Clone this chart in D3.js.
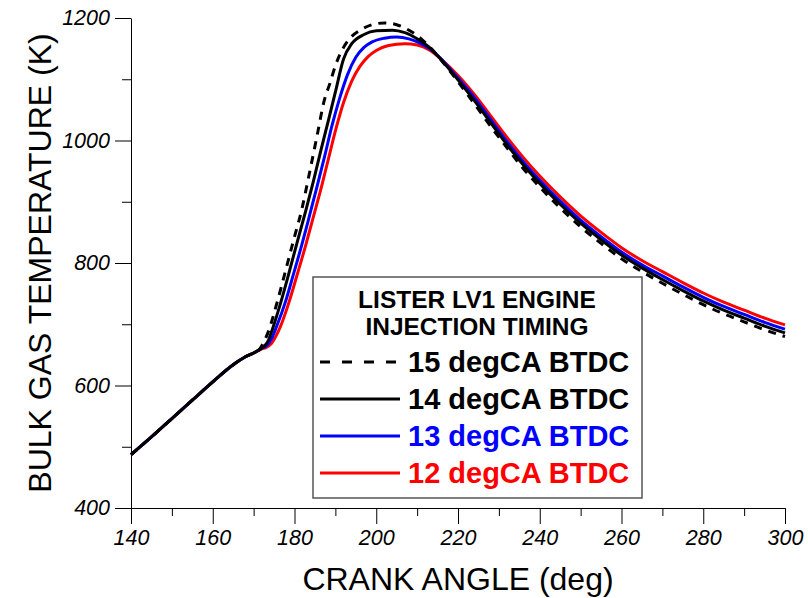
<!DOCTYPE html>
<html>
<head>
<meta charset="utf-8">
<script src="https://cdn.jsdelivr.net/npm/d3@7"></script>
<style>
  body { margin: 0; background: #fff; }
  svg { display: block; }
</style>
</head>
<body>
<div id="chart"></div>
<script>
// Crank angle (deg) / bulk gas temperature (K)
const common = [[140, 487], [145, 516], [150, 546], [155, 576], [160, 606], [165, 634], [168, 647], [170, 653]];

const t15 = [[171, 656], [172, 665], [173.6, 688], [175.8, 737], [177.8, 787], [179.8, 838], [181.8, 888],
  [183.6, 945], [185.5, 1007], [187.3, 1066], [188.7, 1094], [190, 1122], [192, 1152], [194, 1170], [196, 1180],
  [199, 1189], [202, 1192], [205, 1189], [208, 1180], [211, 1166], [214, 1146], [217, 1122], [220, 1096],
  [224, 1060], [228, 1023], [232, 988], [236, 954], [240, 924], [245, 890], [250, 859], [255, 832], [260, 807],
  [265, 786], [270, 767], [275, 749], [280, 732], [285, 717], [290, 704], [295, 691], [300, 680]];

const t14 = [[172, 661], [173.5, 672], [174.6, 692], [176.7, 737], [178.7, 785], [180.7, 835], [182.7, 884],
  [184.6, 933], [186.5, 985], [188.3, 1033], [190.1, 1082], [192, 1133], [194, 1158], [197, 1173], [200, 1179],
  [204, 1180], [207, 1176], [210, 1166], [213, 1152], [216, 1131], [220, 1099], [224, 1065], [228, 1029],
  [232, 993], [236, 960], [240, 930], [245, 896], [250, 865], [255, 838], [260, 813], [265, 792], [270, 773],
  [275, 755], [280, 738], [285, 723], [290, 710], [295, 697], [300, 686]];

const t13 = [[172, 661], [173, 664], [174.5, 678], [175.6, 696], [177.8, 737], [179.8, 783], [181.8, 830],
  [183.7, 878], [185.6, 927], [187.4, 975], [189.2, 1025], [191, 1068], [193, 1108], [195, 1136], [197, 1152],
  [199, 1161], [202, 1167], [205, 1169], [208, 1166], [211, 1158], [214, 1145], [217, 1125], [220, 1102],
  [224, 1070], [228, 1034], [232, 998], [236, 965], [240, 935], [245, 901], [250, 870], [255, 843], [260, 818],
  [265, 797], [270, 779], [275, 761], [280, 744], [285, 729], [290, 716], [295, 703], [300, 692]];

const t12 = [[172, 660], [173, 662], [174.3, 668], [175.5, 681], [176.6, 697], [178.7, 737], [180.7, 782],
  [182.7, 828], [184.6, 875], [186.5, 922], [188.3, 970], [190.1, 1018], [192, 1062], [194, 1097], [196, 1121],
  [198, 1137], [200, 1147], [203, 1155], [207, 1158], [210, 1156], [213, 1148], [216, 1132], [220, 1106],
  [224, 1075], [228, 1040], [232, 1005], [236, 972], [240, 942], [245, 908], [250, 877], [255, 850], [260, 825],
  [265, 804], [270, 786], [275, 768], [280, 751], [285, 736], [290, 723], [295, 710], [300, 699]];

const seriesNames = ['15 degCA BTDC', '14 degCA BTDC', '13 degCA BTDC', '12 degCA BTDC'];
const seriesData = [t15, t14, t13, t12];
const seriesColors = ['#000', '#000', '#0000ff', '#ff0000'];
const seriesDash = ['8,7', null, null, null];

const xTicks = [140, 160, 180, 200, 220, 240, 260, 280, 300];
const yTicks = [400, 600, 800, 1000, 1200];
const legendTitle = ['LISTER LV1 ENGINE', 'INJECTION TIMING'];

const width = 808, height = 598;
const margin = { left: 131, right: 23, top: 18, bottom: 90 };

const svg = d3.select('#chart').append('svg')
  .attr('width', width)
  .attr('height', height);

const x = d3.scaleLinear().domain([140, 300]).range([margin.left, width - margin.right]);
const y = d3.scaleLinear().domain([400, 1200]).range([height - margin.bottom, margin.top]);

const font = 'Liberation Sans, Arial, sans-serif';
const fmt = d3.format('d');

// x axis, major + minor ticks
svg.append('g')
  .attr('transform', `translate(0,${y(400)})`)
  .call(d3.axisBottom(x).tickValues(d3.range(150, 300, 20)).tickSize(8).tickFormat(''))
  .call(g => g.select('.domain').remove());
svg.append('g')
  .attr('transform', `translate(0,${y(400)})`)
  .call(d3.axisBottom(x).tickValues(xTicks).tickSize(16).tickSizeOuter(0).tickPadding(6).tickFormat(fmt))
  .call(g => g.selectAll('text')
    .attr('font-family', font).attr('font-size', 21.5).attr('font-style', 'italic').attr('fill', '#000'));

// y axis
svg.append('g')
  .attr('transform', `translate(${x(140)},0)`)
  .call(d3.axisLeft(y).tickValues(d3.range(500, 1200, 200)).tickSize(9).tickFormat(''))
  .call(g => g.select('.domain').remove());
svg.append('g')
  .attr('transform', `translate(${x(140)},0)`)
  .call(d3.axisLeft(y).tickValues(yTicks).tickSize(16).tickSizeOuter(0).tickPadding(5).tickFormat(fmt))
  .call(g => g.selectAll('text')
    .attr('font-family', font).attr('font-size', 21.5).attr('font-style', 'italic').attr('fill', '#000'));

svg.selectAll('.tick line').attr('stroke', '#000');
svg.selectAll('.domain').attr('stroke', '#000');

// axis titles
svg.append('text')
  .attr('x', (x(140) + x(300)) / 2)
  .attr('y', 590)
  .attr('text-anchor', 'middle')
  .attr('font-family', font)
  .attr('font-size', 32)
  .text('CRANK ANGLE (deg)');

svg.append('text')
  .attr('transform', `translate(51,${(y(400) + y(1200)) / 2}) rotate(-90)`)
  .attr('text-anchor', 'middle')
  .attr('font-family', font)
  .attr('font-size', 32)
  .text('BULK GAS TEMPERATURE (K)');

// curves
const line = d3.line()
  .x(d => x(d[0]))
  .y(d => y(d[1]))
  .curve(d3.curveMonotoneX);

// red first, dashed black last on top
[3, 2, 1, 0].forEach(i => {
  svg.append('path')
    .datum(common.concat(seriesData[i]))
    .attr('fill', 'none')
    .attr('stroke', seriesColors[i])
    .attr('stroke-width', 3)
    .attr('stroke-dasharray', seriesDash[i])
    .attr('d', line);
});

// legend
const lg = svg.append('g');
lg.append('rect')
  .attr('x', 313).attr('y', 277)
  .attr('width', 329).attr('height', 221)
  .attr('fill', '#fff')
  .attr('stroke', '#555')
  .attr('stroke-width', 1.5);

legendTitle.forEach((t, i) => {
  lg.append('text')
    .attr('x', 477)
    .attr('y', 308 + i * 27)
    .attr('text-anchor', 'middle')
    .attr('font-family', font)
    .attr('font-weight', 'bold')
    .attr('font-size', 24.5)
    .text(t);
});

seriesNames.forEach((name, i) => {
  const yy = 362 + i * 37;
  lg.append('line')
    .attr('x1', 320).attr('x2', 400)
    .attr('y1', yy).attr('y2', yy)
    .attr('stroke', seriesColors[i])
    .attr('stroke-width', 3)
    .attr('stroke-dasharray', i === 0 ? '10,12' : null);
  lg.append('text')
    .attr('x', 408)
    .attr('y', yy + 10)
    .attr('font-family', font)
    .attr('font-weight', 'bold')
    .attr('font-size', 29)
    .attr('fill', seriesColors[i])
    .text(name);
});
</script>
</body>
</html>
